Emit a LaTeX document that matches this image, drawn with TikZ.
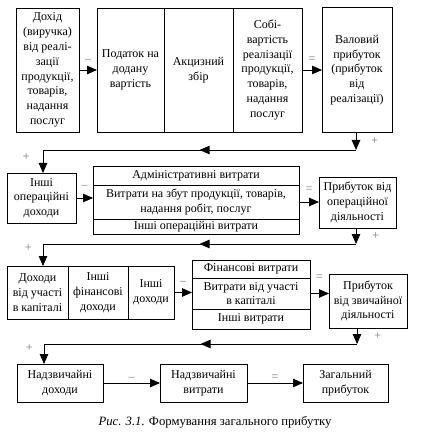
\documentclass[tikz,border=0pt]{standalone}
\usepackage{fontspec}
\setmainfont{Liberation Serif}
\usetikzlibrary{arrows.meta,positioning,decorations.markings}

\begin{document}
\begin{tikzpicture}[>={Triangle[length=10pt,width=8.5pt]},x=1pt,y=-1pt,line width=0.9pt]
  \tikzstyle{every node}=[font=\fontsize{12}{14.8}\selectfont]
  \tikzstyle{box}=[draw,rectangle,align=center,inner sep=0pt,outer sep=0pt]
  \tikzstyle{sign}=[text=black!55,inner sep=1pt]
  \tikzstyle{midarrow}=[postaction={decorate},
    decoration={markings,mark=at position 0.5 with {\arrow{>}}}]
  \useasboundingbox (0,0) rectangle (420,435);

  % first row
  \node[box,minimum width=63pt,minimum height=124pt] (d1) at (47.5,70)
    {Дохід\\(виручка)\\від реалі-\\зації\\продукції,\\товарів,\\надання\\послуг};
  \node[box,minimum width=67pt,minimum height=124pt] (pdv) [right=18pt of d1] {Податок на\\додану\\вартість};
  \node[box,minimum width=69pt,minimum height=124pt] (akz) [right=0pt of pdv] {Акцизний\\збір};
  \node[box,minimum width=69pt,minimum height=124pt] (sob) [right=0pt of akz]
    {Собі-\\вартість\\реалізації\\продукції,\\товарів,\\надання\\послуг};
  \node[box,minimum width=70pt,minimum height=125pt] (val) [right=20pt of sob]
    {Валовий\\прибуток\\(прибуток\\від\\реалізації)};

  % second row
  \node[box,minimum width=69pt,minimum height=50pt] (iod) at (41.5,198) {Інші\\операційні\\доходи};
  \node[box,minimum width=206pt,minimum height=34pt] (t2b) at (196,202)
    {Витрати на збут продукції, товарів,\\надання робіт, послуг};
  \node[box,minimum width=206pt,minimum height=19pt] (t2a) [above=0pt of t2b] {Адміністративні витрати};
  \node[box,minimum width=206pt,minimum height=15pt] (t2c) [below=0pt of t2b] {Інші операційні витрати};
  \node[box,minimum width=77pt,minimum height=51pt] (pod) at (357.5,202.5)
    {Прибуток від\\операційної\\діяльності};

  % third row
  \node[box,minimum width=61pt,minimum height=53pt] (g1) at (37.5,292.5) {Доходи\\від участі\\в капіталі};
  \node[box,minimum width=60pt,minimum height=53pt] (g2) [right=0pt of g1] {Інші\\фінансові\\доходи};
  \node[box,minimum width=46pt,minimum height=53pt] (g3) [right=0pt of g2] {Інші\\доходи};
  \node[box,minimum width=118pt,minimum height=31pt] (t3b) at (251,293.5) {Витрати від участі\\в капіталі};
  \node[box,minimum width=118pt,minimum height=18pt] (t3a) [above=0pt of t3b] {Фінансові витрати};
  \node[box,minimum width=118pt,minimum height=20pt] (t3c) [below=0pt of t3b] {Інші витрати};
  \node[box,minimum width=78pt,minimum height=54pt] (pzd) at (368,301)
    {Прибуток\\від звичайної\\діяльності};

  % fourth row
  \node[box,minimum width=86pt,minimum height=38pt] (nd) at (60,383) {Надзвичайні\\доходи};
  \node[box,minimum width=87pt,minimum height=38pt] (nv) at (203.5,383) {Надзвичайні\\витрати};
  \node[box,minimum width=85pt,minimum height=38pt] (zp) at (345.5,383) {Загальний\\прибуток};

  \node[font=\fontsize{12.7}{15}\selectfont] (cap) at (215,422) {\textit{Рис. 3.1.} Формування загального прибутку};

  % corners of the returns
  \coordinate (a1) at (356,150);  \coordinate (a2) at (43,150);
  \coordinate (b1) at (356,244);  \coordinate (b2) at (43,244);
  \coordinate (c1) at (357,344);  \coordinate (c2) at (44,344);

  \path[->]
    (d1) edge node[sign,above=6pt] {--} (pdv)
    (sob.east) edge node[sign,above=6pt] {=} (sob.east -| val.west)
    (iod.east) edge node[sign,above=8pt] {--} (iod.east -| t2b.west)
    (t2b.east) edge node[sign,above=8pt] {=} (t2b.east -| pod.west)
    (g3.east) edge node[sign,above=7pt] {--} (g3.east -| t3b.west)
    (t3b.east) edge node[sign,above=12pt] {=} (t3b.east -| pzd.west)
    (nd) edge node[sign,above=1pt] {--} (nv)
    (nv) edge node[sign,above=1pt] {=} (zp);

  \draw[->] (val.south -| a1) -- node[sign,right=14pt] {+} (a1);
  \draw[midarrow] (a1) -- (a2);
  \draw[->] (a2) -- node[sign,left=12pt,pos=0.3] {+} (a2 |- iod.north);
  \draw[->] (pod.south -| b1) -- node[sign,right=15pt] {+} (b1);
  \draw[midarrow] (b1) -- (b2);
  \draw[->] (b2) -- node[sign,left=10pt,pos=0.2] {+} (b2 |- g1.north);
  \draw[->] (pzd.south -| c1) -- node[sign,right=16pt] {+} (c1);
  \draw[midarrow] (c1) -- (c2);
  \draw[->] (c2) -- node[sign,left=10pt,pos=0.2] {+} (c2 |- nd.north);
\end{tikzpicture}
\end{document}
